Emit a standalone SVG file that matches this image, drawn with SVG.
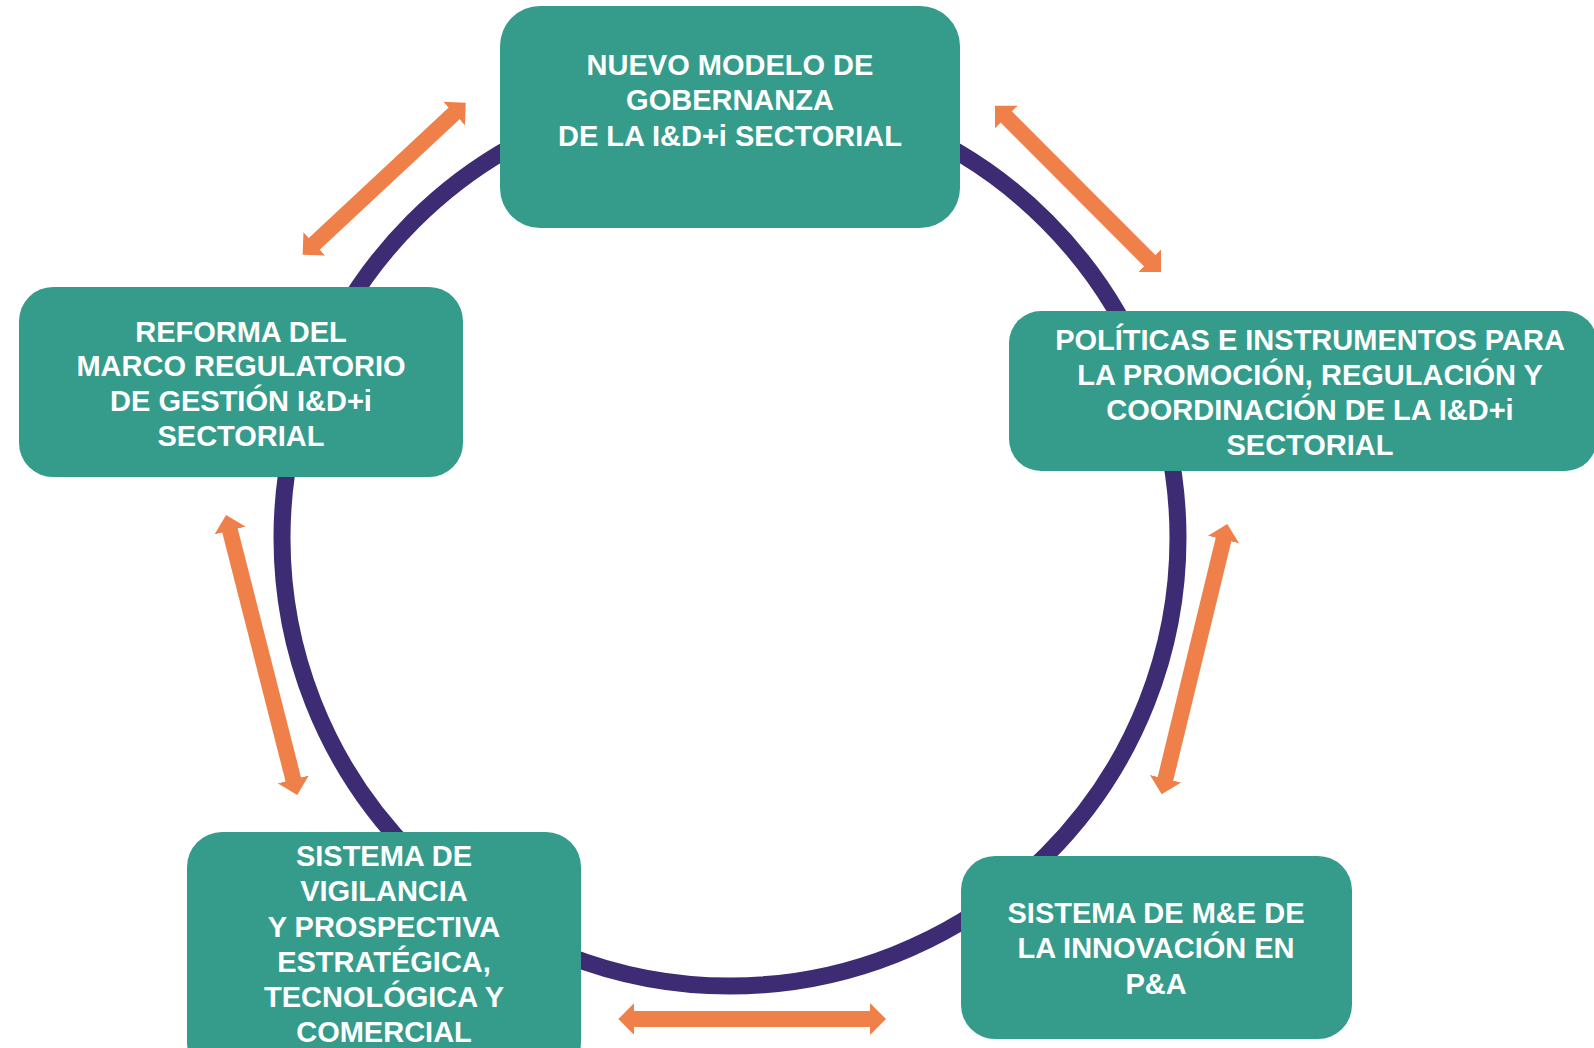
<svg xmlns="http://www.w3.org/2000/svg" width="1594" height="1048" viewBox="0 0 1594 1048">
  <style>
    .box { fill: #359C8C; }
    .lbl { font-family: "Liberation Sans", Arial, sans-serif; font-weight: bold; font-size: 29px; fill: #FFFFFF; text-anchor: middle; }
    .ring { fill: none; stroke: #3D2B73; stroke-width: 17; }
    .arr { stroke: #F0804A; stroke-width: 16; fill: none; marker-start: url(#head); marker-end: url(#head); }
  </style>
  <defs>
    <marker id="head" viewBox="0 0 16 32" refX="2" refY="16" markerWidth="16" markerHeight="32" markerUnits="userSpaceOnUse" orient="auto-start-reverse">
      <path d="M0,0 L16,16 L0,32 Z" fill="#F0804A"/>
    </marker>
  </defs>
  <rect width="1594" height="1048" fill="#FFFFFF"/>

  <g id="ring">
    <circle class="ring" cx="730" cy="538" r="448"/>
  </g>

  <g id="connectors">
    <line class="arr" x1="312.9" y1="245.2" x2="455.5" y2="112.2"/>
    <line class="arr" x1="1004.9" y1="115.6" x2="1151.1" y2="262.1"/>
    <line class="arr" x1="229.5" y1="528.6" x2="293.8" y2="781.4"/>
    <line class="arr" x1="1224" y1="537.6" x2="1165" y2="780.7"/>
    <line class="arr" x1="632.3" y1="1019" x2="872" y2="1019"/>
  </g>

  <g id="node-gobernanza">
    <rect class="box" x="500" y="6" width="460" height="222" rx="40" ry="40"/>
    <text class="lbl" x="730" y="75">NUEVO MODELO DE</text>
    <text class="lbl" x="730" y="110">GOBERNANZA</text>
    <text class="lbl" x="730" y="146">DE LA I&amp;D+i SECTORIAL</text>
  </g>

  <g id="node-politicas">
    <rect class="box" x="1009" y="311" width="588" height="160" rx="32" ry="32"/>
    <text class="lbl" x="1310" y="350">POLÍTICAS E INSTRUMENTOS PARA</text>
    <text class="lbl" x="1310" y="385">LA PROMOCIÓN, REGULACIÓN Y</text>
    <text class="lbl" x="1310" y="420">COORDINACIÓN DE LA I&amp;D+i</text>
    <text class="lbl" x="1310" y="455">SECTORIAL</text>
  </g>

  <g id="node-mye">
    <rect class="box" x="961" y="856" width="391" height="183" rx="34" ry="34"/>
    <text class="lbl" x="1156" y="923">SISTEMA DE M&amp;E DE</text>
    <text class="lbl" x="1156" y="958">LA INNOVACIÓN EN</text>
    <text class="lbl" x="1156" y="994">P&amp;A</text>
  </g>

  <g id="node-vigilancia">
    <rect class="box" x="187" y="832" width="394" height="245" rx="35" ry="35"/>
    <text class="lbl" x="384" y="866">SISTEMA DE</text>
    <text class="lbl" x="384" y="901">VIGILANCIA</text>
    <text class="lbl" x="384" y="937">Y PROSPECTIVA</text>
    <text class="lbl" x="384" y="972">ESTRATÉGICA,</text>
    <text class="lbl" x="384" y="1007">TECNOLÓGICA Y</text>
    <text class="lbl" x="384" y="1042">COMERCIAL</text>
  </g>

  <g id="node-reforma">
    <rect class="box" x="19" y="287" width="444" height="190" rx="34" ry="34"/>
    <text class="lbl" x="241" y="342">REFORMA DEL</text>
    <text class="lbl" x="241" y="376">MARCO REGULATORIO</text>
    <text class="lbl" x="241" y="411">DE GESTIÓN I&amp;D+i</text>
    <text class="lbl" x="241" y="446">SECTORIAL</text>
  </g>
</svg>
